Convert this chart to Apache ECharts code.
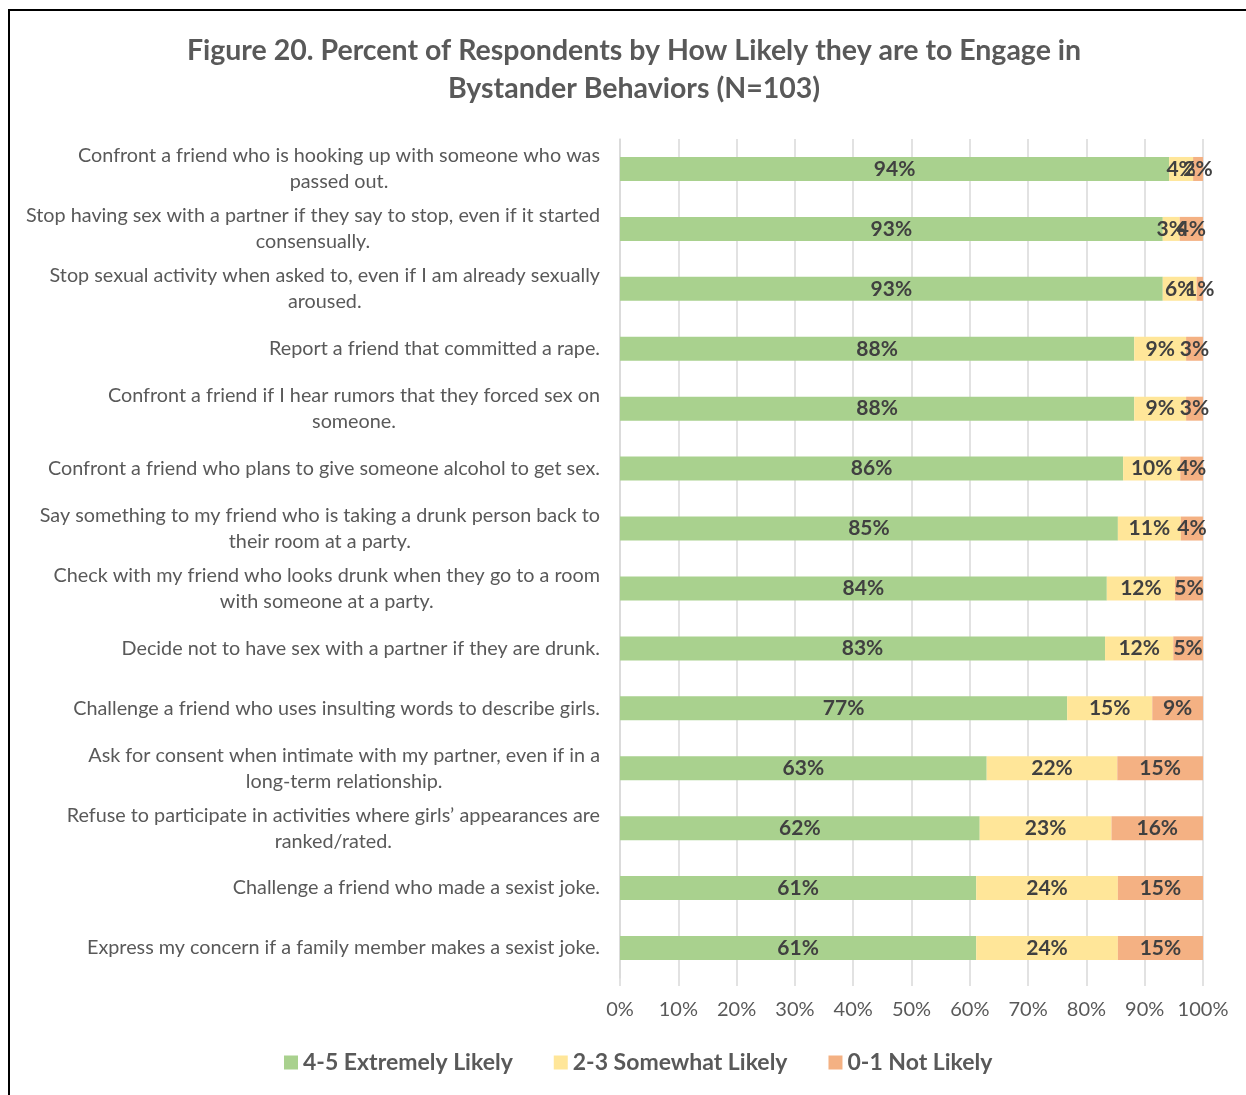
<!DOCTYPE html>
<html>
<head>
<meta charset="utf-8">
<script src="https://cdn.jsdelivr.net/npm/echarts@6/dist/echarts.min.js"></script>
<style>
html,body{margin:0;padding:0;background:#fff;}
#chart{width:1246px;height:1095px;}
</style>
</head>
<body>
<div id="chart"></div>
<script>
const categories = [
  "Confront a friend who is hooking up with someone who was\npassed out.",
  "Stop having sex with a partner if they say to stop, even if it started\nconsensually.",
  "Stop sexual activity when asked to, even if I am already sexually\naroused.",
  "Report a friend that committed a rape.",
  "Confront a friend if I hear rumors that they forced sex on\nsomeone.",
  "Confront a friend who plans to give someone alcohol to get sex.",
  "Say something to my friend who is taking a drunk person back to\ntheir room at a party.",
  "Check with my friend who looks drunk when they go to a room\nwith someone at a party.",
  "Decide not to have sex with a partner if they are drunk.",
  "Challenge a friend who uses insulting words to describe girls.",
  "Ask for consent when intimate with my partner, even if in a\nlong-term relationship.",
  "Refuse to participate in activities where girls\u2019 appearances are\nranked/rated.",
  "Challenge a friend who made a sexist joke.",
  "Express my concern if a family member makes a sexist joke."
];
const extremelyLikely = [94.2, 93.1, 93.1, 88.2, 88.2, 86.3, 85.4, 83.5, 83.2, 76.7, 62.9, 61.7, 61.1, 61.1];
const somewhatLikely  = [4.1, 2.9, 5.8, 8.9, 8.9, 9.8, 10.8, 11.7, 11.7, 14.6, 22.4, 22.6, 24.3, 24.3];
const notLikely       = [1.7, 4.0, 1.1, 2.9, 2.9, 3.9, 3.8, 4.8, 5.1, 8.7, 14.7, 15.7, 14.6, 14.6];
const seriesNames = ["4-5 Extremely Likely", "2-3 Somewhat Likely", "0-1 Not Likely"];
const xTicks = [0, 10, 20, 30, 40, 50, 60, 70, 80, 90, 100];

const FONT = "Lato";
const colors = ["#A9D18E", "#FFE699", "#F4B183"];
const dataSets = [extremelyLikely, somewhatLikely, notLikely];

const chart = echarts.init(document.getElementById('chart'), null, {renderer: 'canvas'});
const option = {
  animation: false,
  backgroundColor: '#ffffff',
  textStyle: {fontFamily: FONT},
  title: {
    text: "Figure 20. Percent of Respondents by How Likely they are to Engage in\nBystander Behaviors (N=103)",
    left: 629, textAlign: 'center', top: 27,
    textStyle: {fontFamily: FONT, fontSize: 28.5, fontWeight: 'bold', color: '#595959', lineHeight: 38}
  },
  legend: {
    bottom: 16, left: 279,
    itemWidth: 14, itemHeight: 14, itemGap: 41,
    icon: 'rect',
    textStyle: {fontFamily: FONT, fontSize: 23, fontWeight: 'bold', color: '#595959'},
    data: seriesNames
  },
  graphic: [{
    type: 'rect', silent: true, z: 100,
    shape: {x: 9, y: 10, width: 1400, height: 1300},
    style: {fill: null, stroke: '#000', lineWidth: 2}
  }],
  grid: {left: 620, right: 43, top: 139, bottom: 117, containLabel: false},
  xAxis: {
    type: 'value', min: 0, max: 100, interval: 10,
    axisLine: {show: false},
    axisTick: {show: true, length: 8, lineStyle: {color: '#D9D9D9', width: 1.5}},
    splitLine: {show: true, lineStyle: {color: '#D9D9D9', width: 1.5}},
    axisLabel: {formatter: v => v + '%', fontFamily: FONT, fontSize: 20, color: '#595959', margin: 22}
  },
  yAxis: {
    type: 'category', inverse: true, data: categories,
    axisLine: {show: true, lineStyle: {color: '#D9D9D9', width: 1.5}},
    axisTick: {show: false},
    axisLabel: {
      fontFamily: FONT, fontSize: 19.8, color: '#595959', margin: 20, align: 'right', lineHeight: 26,
      formatter: v => v.split('\n').map(l => '{c|' + l + '}').join('\n'),
      rich: {c: {align: 'center', fontFamily: FONT, fontSize: 19.8, color: '#595959', lineHeight: 26}}
    }
  },
  series: seriesNames.map((name, i) => ({
    name: name, type: 'bar', stack: 'total', barWidth: 24,
    itemStyle: {color: colors[i]},
    label: {
      show: true, position: 'inside',
      formatter: p => Math.round(p.value) + '%',
      fontFamily: FONT, fontSize: 21, fontWeight: 'bold', color: '#404040'
    },
    labelLayout: {hideOverlap: false},
    data: dataSets[i]
  }))
};
chart.setOption(option);
</script>
</body>
</html>
